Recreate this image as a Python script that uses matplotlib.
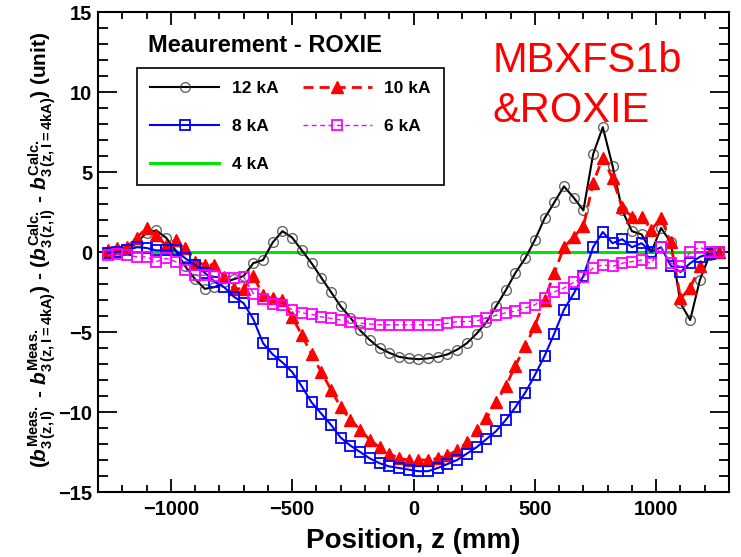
import numpy as np
import matplotlib
matplotlib.use("Agg")
import matplotlib.pyplot as plt
from matplotlib.ticker import MultipleLocator

# Longitudinal positions of the measured slices (mm)
z_mm = [-1260, -1220, -1180, -1140, -1100, -1060, -1020, -980,
        -940, -900, -860, -820, -780, -740, -700, -660,
        -620, -580, -540, -500, -460, -420, -380, -340,
        -300, -260, -220, -180, -140, -100, -60, -20,
        20, 60, 100, 140, 180, 220, 260, 300,
        340, 380, 420, 460, 500, 540, 580, 620,
        660, 700, 740, 780, 820, 860, 900, 940,
        980, 1020, 1060, 1100, 1140, 1180, 1220, 1260]

# Measurement - ROXIE difference of b3 (relative to 4 kA), in units
b3_12kA = [0.0, 0.05, 0.1, 0.6, 1.2, 1.35, 0.9, 0.1,
           -0.9, -1.7, -2.3, -2.2, -1.9, -1.7, -1.5, -0.7,
           -0.5, 0.6, 1.3, 0.9, 0.1, -0.7, -1.6, -2.5,
           -3.4, -4.1, -4.9, -5.5, -6.0, -6.3, -6.55, -6.65,
           -6.7, -6.65, -6.55, -6.4, -6.1, -5.7, -5.1, -4.4,
           -3.4, -2.4, -1.3, -0.4, 0.75, 2.1, 3.1, 4.1,
           3.4, 2.6, 6.1, 7.8, 5.4, 2.6, 1.3, 1.1,
           0.0, 1.5, 0.6, -3.2, -4.25, -1.75, -0.2, 0.0]

b3_10kA = [0.1, 0.25, 0.3, 0.9, 1.5, 1.05, 0.4, 0.75,
           0.25, -0.6, -0.8, -0.8, -1.55, -2.3, -2.3, -1.5,
           -2.7, -2.9, -3.0, -4.05, -5.2, -6.4, -7.5, -8.6,
           -9.7, -10.5, -11.1, -11.75, -12.2, -12.6, -12.9, -13.0,
           -13.0, -13.0, -12.9, -12.7, -12.4, -11.9, -11.1, -10.4,
           -9.4, -8.4, -7.1, -5.9, -4.6, -3.0, -1.3, 0.3,
           0.95, 1.6, 4.3, 5.9, 4.6, 2.8, 2.2, 2.2,
           1.4, 2.1, 0.6, -2.9, -2.25, -0.9, 0.0, 0.0]

b3_8kA = [-0.05, 0.0, 0.1, 0.3, 0.25, 0.1, 0.1, 0.1,
          -0.4, -0.8, -1.3, -1.85, -2.2, -2.8, -3.2, -4.2,
          -5.7, -6.4, -6.9, -7.5, -8.4, -9.4, -10.1, -10.8,
          -11.6, -12.1, -12.5, -12.9, -13.2, -13.4, -13.5, -13.6,
          -13.7, -13.7, -13.5, -13.25, -13.0, -12.6, -12.2, -11.7,
          -11.2, -10.5, -9.7, -8.8, -7.7, -6.5, -5.1, -3.6,
          -2.6, -1.5, 0.3, 1.25, 0.55, 0.8, 0.3, 0.55,
          0.0, 0.3, -0.85, -1.25, -0.7, -0.3, -0.1, 0.0]

b3_6kA = [-0.2, -0.1, -0.2, -0.3, -0.3, -0.6, -0.4, -0.6,
          -1.1, -1.45, -1.45, -1.5, -1.6, -1.6, -1.55, -2.6,
          -2.95, -3.25, -3.3, -3.6, -3.8, -3.9, -4.05, -4.15,
          -4.25, -4.35, -4.45, -4.5, -4.55, -4.55, -4.55, -4.55,
          -4.55, -4.55, -4.55, -4.45, -4.35, -4.35, -4.3, -4.15,
          -3.95, -3.8, -3.7, -3.5, -3.3, -2.9, -2.5, -2.25,
          -1.9, -1.55, -1.0, -0.8, -0.9, -0.7, -0.6, -0.5,
          -0.7, 0.3, -0.7, -0.9, 0.0, 0.3, 0.0, 0.0]

b3_4kA = [0.0] * len(z_mm)

series_labels = ["12 kA", "10 kA", "8 kA", "6 kA", "4 kA"]

plt.rcParams["font.family"] = ["Liberation Sans", "DejaVu Sans"]
plt.rcParams["font.weight"] = "bold"
plt.rcParams["mathtext.fontset"] = "custom"
plt.rcParams["mathtext.rm"] = "Liberation Sans:bold"
plt.rcParams["mathtext.it"] = "Liberation Sans:italic:bold"
plt.rcParams["mathtext.bf"] = "Liberation Sans:bold"

W, H = 741, 557
fig = plt.figure(figsize=(W / 100, H / 100), dpi=100)
ax = fig.add_axes([98 / W, 1 - 492 / H, 631 / W, 480 / H])

z = np.array(z_mm, dtype=float)

h4, = ax.plot(z, b3_4kA, color="#00e600", lw=2.2, zorder=1, label=series_labels[4])
h12, = ax.plot(z, b3_12kA, color="black", lw=1.5, marker="o", ms=7,
               mfc="none", mec=(0.2, 0.2, 0.2, 0.75), mew=1.0, zorder=2,
               label=series_labels[0])
h10, = ax.plot(z, b3_10kA, color="red", lw=2.0, ls=(0, (3.6, 2.2)), marker="^",
               ms=8.5, mfc="red", mec="red", zorder=3, label=series_labels[1])
h8, = ax.plot(z, b3_8kA, color="blue", lw=1.5, marker="s", ms=7, mfc="none",
              mec="blue", mew=1.3, zorder=4, label=series_labels[2])
h6, = ax.plot(z, b3_6kA, color="magenta", lw=1.0, ls=(0, (3.5, 2.5)), marker="s",
              ms=7.5, mfc="none", mec="magenta", mew=1.3, zorder=5,
              label=series_labels[3])

ax.set_xlim(-1300, 1300)
ax.set_ylim(-15, 15)
ax.xaxis.set_major_locator(MultipleLocator(500))
ax.xaxis.set_minor_locator(MultipleLocator(100))
ax.yaxis.set_major_locator(MultipleLocator(5))
ax.yaxis.set_minor_locator(MultipleLocator(1))

ax.tick_params(which="both", direction="in", top=True, right=True, width=1.3,
               labelsize=14.5)
ax.tick_params(axis="x", which="major", length=9.5, pad=6)
ax.tick_params(axis="x", which="minor", length=4.7)
ax.tick_params(axis="y", which="major", length=14, pad=4)
ax.tick_params(axis="y", which="minor", length=7)
for s in ax.spines.values():
    s.set_linewidth(1.5)

ax.set_xlabel("Position, z (mm)", fontsize=20, fontweight="bold", labelpad=6)
ylab = (r"($b^{\mathrm{Meas.}}_{\mathrm{3\,(z,I)}}$ - "
        r"$b^{\mathrm{Meas.}}_{\mathrm{3\,(z,I=4kA)}}$) - "
        r"($b^{\mathrm{Calc.}}_{\mathrm{3\,(z,I)}}$ - "
        r"$b^{\mathrm{Calc.}}_{\mathrm{3\,(z,I=4kA)}}$) (unit)")
ax.set_ylabel(ylab, fontsize=15, fontweight="bold")
ax.yaxis.set_label_coords(-0.063, 0.505)

leg = ax.legend(handles=[h12, h8, h4, h10, h6], ncol=2, loc="upper left",
                bbox_to_anchor=(0.0618, 0.883), borderaxespad=0,
                prop={"size": 12.5, "weight": "bold"}, handlelength=4,
                handletextpad=0.7, columnspacing=1.4, labelspacing=1.3,
                borderpad=0.75, fancybox=False, edgecolor="black",
                framealpha=1, numpoints=1)
leg.get_frame().set_linewidth(1.2)

fig.text(148 / W, 1 - 52 / H, "Meaurement - ROXIE", fontsize=17,
         fontweight="bold", va="baseline", ha="left")
fig.text(493 / W, 1 - 72 / H, "MBXFS1b", fontsize=30, fontweight="normal",
         color="red", va="baseline", ha="left")
fig.text(493 / W, 1 - 122 / H, "&ROXIE", fontsize=30, fontweight="normal",
         color="red", va="baseline", ha="left")

fig.savefig("out.png", dpi=100)
